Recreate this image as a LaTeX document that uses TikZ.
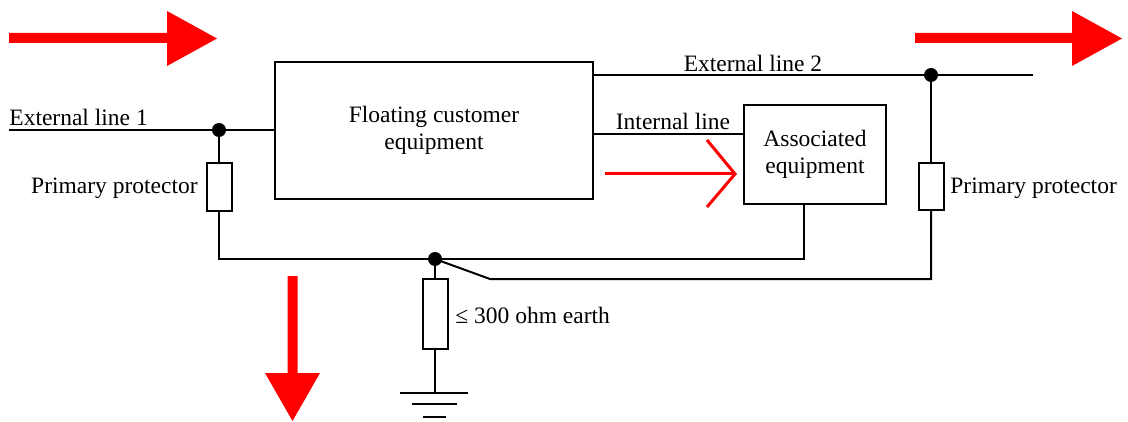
\documentclass[tikz,border=0pt]{standalone}
\usepackage{fontspec}
\setmainfont{Liberation Serif}
\newcommand\dfont{\fontsize{11.75}{13.3}\selectfont}
\begin{document}
\begin{tikzpicture}[x=0.5pt,y=-0.5pt,
  wire/.style={line width=1pt},
  box/.style={draw,line width=1pt,inner sep=0pt,align=center,font=\dfont},
  res/.style={draw,line width=1pt,minimum width=12.5pt,inner sep=0pt},
  dot/.style={circle,fill,inner sep=0pt,minimum size=7pt},
  lbl/.style={font=\dfont,inner sep=0pt},
  bigarrow/.style={fill=red,draw=none},
  redline/.style={draw=red,line width=1.5pt}]
\useasboundingbox (0,0) rectangle (1128,422);

% boxes
\node[box,minimum width=159pt,minimum height=68.5pt] (fce) at (434,130.5) {Floating customer\\equipment};
\node[box,minimum width=71pt,minimum height=49.5pt] (ae) at (815,154.5) {Associated\\equipment};

% junction dots
\node[dot] (d1) at (219,130) {};
\node[dot] (d2) at (931,75) {};
\node[dot] (d3) at (435,259) {};

% resistors
\node[res,minimum height=24pt] (p1) at (219,187) {};
\node[res,minimum height=23.5pt] (p2) at (931,186.5) {};
\node[res,minimum height=35pt] (r3) at (435,314) {};

% coordinates
\coordinate (l1) at (9,130);
\coordinate (l2) at (1033,75);
\coordinate (ilA) at (593,134);
\coordinate (ilB) at (744,134);
\coordinate (aeb) at (804,204);
\coordinate (kink) at (490,279);
\coordinate (gnd) at (435,393);

% wires
\draw[wire] (l1) -- (d1.center) -- (d1 -| fce.west);
\draw[wire] (d1.center) -- (p1.north);
\draw[wire] (p1.south) |- (d3.center) -- (d3 -| aeb) -- (aeb);
\draw[wire] (fce.east |- d2) -- (d2.center) -- (l2);
\draw[wire] (d2.center) -- (p2.north);
\draw[wire] (d3.center) -- (kink) -| (p2.south);
\draw[wire] (ilA) -- (ilB);
\draw[wire] (d3.center) -- (r3.north);
\draw[wire] (r3.south) -- (gnd);
% earth symbol
\draw[wire] (400,393) -- (468,393);
\draw[wire] (412,404) -- (457,404);
\draw[wire] (423,417) -- (446,417);

% labels
\node[lbl,anchor=base west] (t1) at (9,126) {External line 1};
\node[lbl,anchor=base] (t2) at (753,72) {External line 2};
\node[lbl,anchor=base] (t3) at (673,130) {Internal line};
\node[lbl,anchor=base east] (t4) at (198,193) {Primary protector};
\node[lbl,anchor=base west] (t5) at (950,193) {Primary protector};
\node[lbl,anchor=base west] (t6) at (455,323) {≤ 300 ohm earth};

% red arrows
\fill[bigarrow] (9,33) -- (167,33) -- (167,11) -- (217,38.5) -- (167,66) -- (167,43) -- (9,43) -- cycle;
\fill[bigarrow] (915,33) -- (1072,33) -- (1072,11) -- (1122,38.5) -- (1072,66) -- (1072,43) -- (915,43) -- cycle;
\fill[bigarrow] (287.5,276) -- (297.5,276) -- (297.5,373) -- (320,373) -- (292.5,421) -- (265,373) -- (287.5,373) -- cycle;
\draw[redline] (605,174) -- (735,174);
\draw[redline] (707,140) -- (735,174) -- (707,207);
\end{tikzpicture}
\end{document}
